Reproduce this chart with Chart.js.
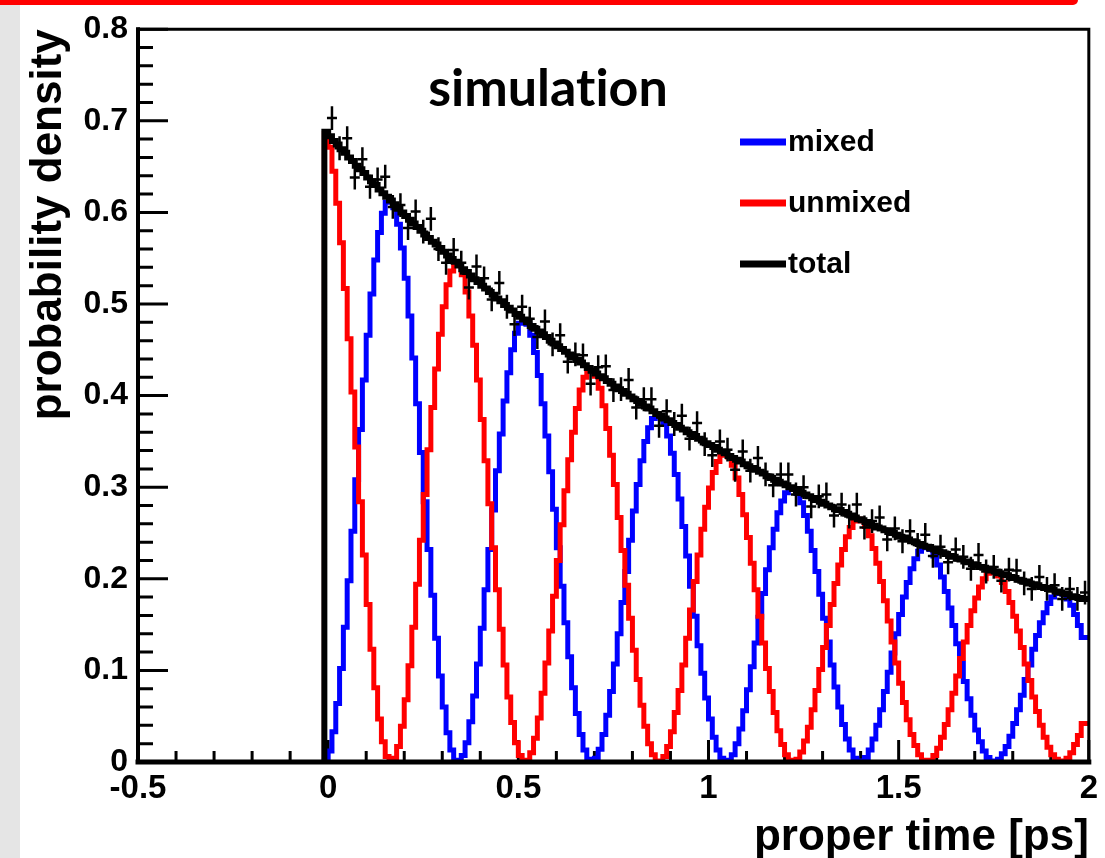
<!DOCTYPE html>
<html>
<head>
<meta charset="utf-8">
<title>simulation - proper time</title>
<script src="https://cdn.jsdelivr.net/npm/chart.js@4.4.1/dist/chart.umd.min.js"></script>
<style>
  html, body { margin: 0; padding: 0; background: #fff; }
  #wrap { position: relative; width: 1105px; height: 858px; overflow: hidden; }
  #strip { position: absolute; left: 0; top: 0; width: 20px; height: 858px; background: #e5e5e5; }
  #redbar { position: absolute; left: 0; top: 0; width: 1078px; height: 5px; background: #ff0000; border-radius: 0 0 6px 0; }
  canvas { position: absolute; left: 0; top: 0; }
</style>
</head>
<body>
<div id="wrap">
  <div id="strip"></div>
  <div id="redbar"></div>
  <canvas id="chart" width="1105" height="858"></canvas>
</div>
<script>
// ------------------------------------------------------------
//  Datos: histogramas de 0.01 ps (primer bin empieza en -0.01)
// ------------------------------------------------------------
const BIN_START = -0.01;
const BIN_WIDTH = 0.01;

const MIXED = [0.000,
  .001,.012,.033,.064,.102,.147,.198,.252,.308,.363,
  .417,.466,.511,.548,.578,.599,.611,.613,.605,.587,
  .561,.528,.487,.441,.391,.338,.284,.232,.182,.135,
  .094,.060,.032,.013,.002,.000,.007,.021,.044,.072,
  .107,.146,.188,.232,.275,.318,.358,.394,.425,.450,
  .468,.479,.482,.478,.466,.447,.422,.391,.356,.317,
  .276,.234,.192,.152,.115,.081,.053,.030,.013,.003,
  .000,.004,.014,.030,.051,.077,.107,.140,.174,.208,
  .242,.274,.303,.329,.350,.365,.375,.379,.377,.369,
  .356,.337,.314,.287,.257,.225,.192,.159,.127,.097,
  .070,.047,.027,.013,.004,.000,.002,.008,.020,.036,
  .056,.079,.104,.130,.158,.184,.210,.234,.254,.272,
  .285,.294,.298,.298,.293,.283,.269,.252,.231,.208,
  .183,.157,.131,.106,.082,.060,.041,.025,.013,.004,
  .000,.001,.005,.013,.025,.040,.057,.077,.098,.119,
  .140,.161,.180,.196,.211,.222,.230,.234,.235,.232,
  .225,.215,.202,.186,.168,.149,.129,.108,.088,.069,
  .051,.035,.022,.012,.005,.001,.000,.003,.009,.017,
  .028,.042,.057,.073,.090,.106,.123,.138,.152,.163,
  .173,.180,.184,.185,.183,.178,.171,.161,.149,.136];

const UNMIXED = [0.573,
  .686,.671,.645,.610,.567,.517,.462,.404,.344,.284,
  .226,.172,.123,.081,.047,.022,.006,.000,.004,.017,
  .039,.068,.105,.147,.194,.242,.292,.341,.387,.429,
  .467,.497,.521,.536,.543,.542,.532,.513,.487,.455,
  .417,.374,.329,.282,.234,.188,.145,.106,.071,.043,
  .021,.007,.000,.002,.010,.026,.048,.075,.108,.143,
  .181,.220,.259,.296,.330,.360,.386,.406,.420,.427,
  .427,.421,.408,.389,.364,.335,.303,.267,.231,.193,
  .157,.122,.090,.062,.039,.020,.008,.001,.000,.006,
  .017,.033,.054,.078,.106,.135,.166,.197,.226,.254,
  .278,.299,.316,.328,.335,.337,.333,.324,.310,.292,
  .270,.245,.217,.188,.159,.130,.102,.077,.054,.034,
  .019,.008,.002,.000,.003,.011,.023,.038,.057,.078,
  .101,.125,.149,.172,.195,.215,.232,.246,.256,.263,
  .265,.263,.257,.247,.233,.217,.197,.176,.154,.131,
  .108,.086,.065,.046,.030,.018,.008,.002,.000,.002,
  .007,.015,.027,.041,.057,.075,.094,.113,.131,.149,
  .165,.179,.191,.200,.206,.208,.207,.203,.196,.186,
  .174,.159,.143,.125,.107,.089,.071,.055,.040,.027,
  .016,.008,.003,.000,.001,.004,.010,.019,.029,.042];

const TOTAL = [0.540,
  .688,.683,.678,.674,.669,.665,.660,.656,.651,.647,
  .643,.638,.634,.630,.625,.621,.617,.613,.609,.604,
  .600,.596,.592,.588,.584,.580,.576,.572,.568,.565,
  .561,.557,.553,.549,.546,.542,.538,.535,.531,.527,
  .524,.520,.517,.513,.510,.506,.503,.499,.496,.493,
  .489,.486,.483,.480,.476,.473,.470,.467,.464,.460,
  .457,.454,.451,.448,.445,.442,.439,.436,.433,.430,
  .427,.424,.421,.419,.416,.413,.410,.407,.405,.402,
  .399,.396,.394,.391,.388,.386,.383,.380,.378,.375,
  .373,.370,.368,.365,.363,.360,.358,.356,.353,.351,
  .348,.346,.344,.341,.339,.337,.334,.332,.330,.328,
  .325,.323,.321,.319,.317,.315,.312,.310,.308,.306,
  .304,.302,.300,.298,.296,.294,.292,.290,.288,.286,
  .284,.282,.280,.278,.276,.275,.273,.271,.269,.267,
  .265,.264,.262,.260,.258,.256,.255,.253,.251,.250,
  .248,.246,.245,.243,.241,.240,.238,.236,.235,.233,
  .232,.230,.229,.227,.225,.224,.222,.221,.219,.218,
  .216,.215,.213,.212,.211,.209,.208,.206,.205,.204,
  .202,.201,.199,.198,.197,.195,.194,.193,.191,.190,
  .189,.188,.186,.185,.184,.183,.181,.180,.179,.178];

// puntos simulados (bins de 0.02 ps) con barras de error
const DATA_START = 0;
const DATA_WIDTH = 0.02;
const DATA_ERR = 0.013;
const DATA_TOTAL = [
  .703,.670,.681,.638,.658,.628,.636,.639,.606,.608,
  .583,.601,.579,.593,.560,.545,.559,.545,.518,.541,
  .528,.505,.523,.497,.478,.497,.484,.464,.481,.456,
  .466,.437,.445,.444,.413,.431,.432,.406,.407,.417,
  .387,.396,.396,.367,.383,.369,.378,.353,.370,.347,
  .335,.350,.341,.319,.339,.318,.332,.314,.302,.314,
  .314,.292,.300,.279,.290,.292,.269,.281,.268,.281,
  .256,.263,.267,.243,.255,.241,.252,.237,.248,.225,
  .235,.218,.232,.224,.211,.226,.208,.213,.198,.210,
  .209,.195,.189,.202,.189,.193,.178,.189,.178,.185];

const X_TICKS  = [-0.5, 0, 0.5, 1, 1.5, 2];
const X_LABELS = ['-0.5', '0', '0.5', '1', '1.5', '2'];
const Y_TICKS  = [0, 0.1, 0.2, 0.3, 0.4, 0.5, 0.6, 0.7, 0.8];
const Y_LABELS = ['0', '0.1', '0.2', '0.3', '0.4', '0.5', '0.6', '0.7', '0.8'];

const SERIES_NAMES = ['mixed', 'unmixed', 'total'];
const AZUL  = '#0000ff';
const ROJO  = '#ff0000';
const NEGRO = '#000000';
const SERIES_COLORS = [AZUL, ROJO, NEGRO];
// orden de dibujo: el menor queda encima (total sobre unmixed sobre mixed)
const SERIES_ORDER = [2, 1, 0];
const SERIES_WIDTH = [5, 5, 6];

const FONT_AXIS = 'Liberation Sans, Arial, sans-serif';

// histograma -> puntos en los bordes de cada bin (para stepped 'after')
function histPoints(values) {
  const pts = [{ x: BIN_START, y: 0 }];
  values.forEach((v, i) => pts.push({ x: BIN_START + i * BIN_WIDTH, y: v }));
  pts.push({ x: BIN_START + values.length * BIN_WIDTH, y: values[values.length - 1] });
  return pts;
}

function histDataset(i, values) {
  return {
    label: SERIES_NAMES[i],
    data: histPoints(values),
    order: SERIES_ORDER[i],
    borderColor: SERIES_COLORS[i],
    backgroundColor: SERIES_COLORS[i],
    borderWidth: SERIES_WIDTH[i],
    stepped: 'after',
    pointRadius: 0,
    fill: false,
    borderJoinStyle: 'miter',
    borderCapStyle: 'butt'
  };
}

// ticks hacia dentro, estilo ROOT
const insideTicks = {
  id: 'insideTicks',
  beforeDatasetsDraw(chart) {
    const { ctx, chartArea: a, scales: { x, y } } = chart;
    ctx.save();
    ctx.strokeStyle = NEGRO;
    ctx.lineWidth = 3;
    ctx.beginPath();
    for (let i = 0; i < Y_TICKS.length; i++) {
      const py = y.getPixelForValue(Y_TICKS[i]);
      ctx.moveTo(a.left, py); ctx.lineTo(a.left + 30, py);
      if (i < Y_TICKS.length - 1) {
        const step = (Y_TICKS[i + 1] - Y_TICKS[i]) / 5;
        for (let k = 1; k < 5; k++) {
          const pm = y.getPixelForValue(Y_TICKS[i] + k * step);
          ctx.moveTo(a.left, pm); ctx.lineTo(a.left + 15, pm);
        }
      }
    }
    for (let i = 0; i < X_TICKS.length; i++) {
      const px = x.getPixelForValue(X_TICKS[i]);
      ctx.moveTo(px, a.bottom); ctx.lineTo(px, a.bottom - 22);
      if (i < X_TICKS.length - 1) {
        const step = (X_TICKS[i + 1] - X_TICKS[i]) / 5;
        for (let k = 1; k < 5; k++) {
          const pm = x.getPixelForValue(X_TICKS[i] + k * step);
          ctx.moveTo(pm, a.bottom); ctx.lineTo(pm, a.bottom - 11);
        }
      }
    }
    ctx.stroke();
    ctx.restore();
  }
};

// cruces de los datos simulados + marco + leyenda + titulo
const overlay = {
  id: 'overlay',
  afterDatasetsDraw(chart) {
    const { ctx, chartArea: a, scales: { x, y } } = chart;

    // cruces con error
    ctx.save();
    ctx.beginPath();
    ctx.rect(a.left, a.top, a.right - a.left, a.bottom - a.top);
    ctx.clip();
    ctx.strokeStyle = NEGRO;
    ctx.lineWidth = 2.5;
    ctx.beginPath();
    DATA_TOTAL.forEach((v, i) => {
      const cx = DATA_START + (i + 0.5) * DATA_WIDTH;
      const px = x.getPixelForValue(cx);
      const py = y.getPixelForValue(v);
      const up = y.getPixelForValue(v + DATA_ERR);
      const dn = y.getPixelForValue(v - DATA_ERR);
      ctx.moveTo(px, up); ctx.lineTo(px, dn);
      ctx.moveTo(px - 5, py); ctx.lineTo(px + 5, py);
    });
    ctx.stroke();
    ctx.restore();

    // marco
    ctx.save();
    ctx.strokeStyle = NEGRO;
    ctx.lineCap = 'square';
    ctx.lineWidth = 3;
    ctx.beginPath();
    ctx.moveTo(a.left, a.top); ctx.lineTo(a.right, a.top); ctx.lineTo(a.right, a.bottom);
    ctx.stroke();
    ctx.lineWidth = 4;
    ctx.beginPath();
    ctx.moveTo(a.left, a.top); ctx.lineTo(a.left, a.bottom);
    ctx.stroke();
    ctx.lineWidth = 5;
    ctx.beginPath();
    ctx.moveTo(a.left, a.bottom); ctx.lineTo(a.right, a.bottom);
    ctx.stroke();
    ctx.restore();

    // leyenda
    ctx.save();
    ctx.font = 'bold 30px ' + FONT_AXIS;
    ctx.textBaseline = 'middle';
    ctx.fillStyle = NEGRO;
    SERIES_NAMES.forEach((name, i) => {
      const ly = 142 + i * 61;
      ctx.strokeStyle = SERIES_COLORS[i];
      ctx.lineWidth = 7;
      ctx.beginPath();
      ctx.moveTo(740, ly); ctx.lineTo(786, ly);
      ctx.stroke();
      ctx.fillText(name, 788, ly + 1);
    });

    // titulo (ZWNJ evita la ligadura "ti")
    ctx.font = 'bold 52px Lato, "Open Sans", sans-serif';
    ctx.textAlign = 'center';
    ctx.textBaseline = 'alphabetic';
    ctx.fillText('simulat\u200Cion', 548, 106);
    ctx.restore();
  }
};

new Chart(document.getElementById('chart'), {
  type: 'line',
  data: {
    datasets: [
      histDataset(0, MIXED),
      histDataset(1, UNMIXED),
      histDataset(2, TOTAL)
    ]
  },
  options: {
    responsive: false,
    animation: false,
    events: [],
    layout: { padding: { left: 0, top: 19, right: 15, bottom: 0 } },
    plugins: {
      legend: { display: false },
      tooltip: { enabled: false }
    },
    scales: {
      x: {
        type: 'linear',
        min: -0.5,
        max: 2,
        afterBuildTicks: axis => { axis.ticks = X_TICKS.map(v => ({ value: v })); },
        afterFit: axis => { axis.height = 96; },
        grid: { display: false, drawTicks: false },
        border: { display: false },
        ticks: {
          autoSkip: false,
          maxRotation: 0,
          padding: 7,
          color: NEGRO,
          font: { family: FONT_AXIS, size: 33, weight: 'bold' },
          callback: (v, i) => X_LABELS[i]
        },
        title: {
          display: true,
          text: 'proper time [ps]',
          align: 'end',
          color: NEGRO,
          padding: 0,
          font: { family: FONT_AXIS, size: 44, weight: 'bold', lineHeight: 0.9 }
        }
      },
      y: {
        min: 0,
        max: 0.8,
        afterBuildTicks: axis => { axis.ticks = Y_TICKS.map(v => ({ value: v })); },
        afterFit: axis => { axis.width = 138; },
        grid: { display: false, drawTicks: false },
        border: { display: false },
        ticks: {
          autoSkip: false,
          padding: 10,
          color: NEGRO,
          font: { family: FONT_AXIS, size: 32, weight: 'bold' },
          callback: (v, i) => Y_LABELS[i]
        },
        title: {
          display: true,
          text: 'probability density',
          align: 'end',
          color: NEGRO,
          padding: { top: 29, bottom: 0 },
          font: { family: FONT_AXIS, size: 44, weight: 'bold', lineHeight: 0.9 }
        }
      }
    }
  },
  plugins: [insideTicks, overlay]
});
</script>
</body>
</html>
